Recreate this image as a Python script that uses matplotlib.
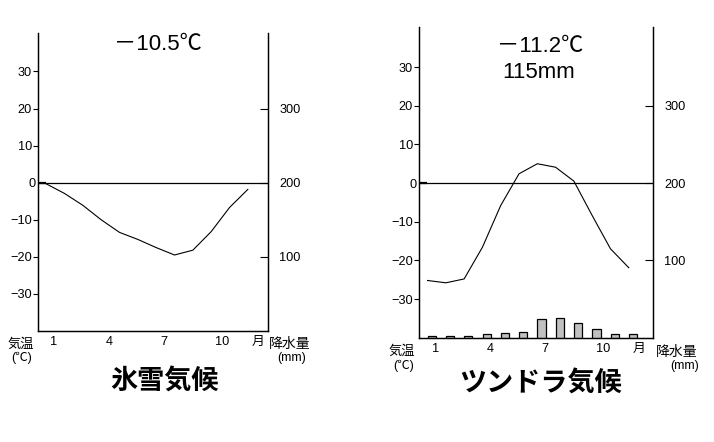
import matplotlib
matplotlib.use('Agg')
import matplotlib.pyplot as plt

plt.rcParams['font.family'] = ['Liberation Sans', 'Noto Sans CJK JP', 'DejaVu Sans']

# ---- data ----
months = list(range(1, 13))
month_ticks = [1, 4, 7, 10, 12]
month_labels = ['1', '4', '7', '10', '月']
temp_ticks = [-30, -20, -10, 10, 20, 30]
temp_tick_labels = ['\u221230', '\u221220', '\u221210', '10', '20', '30']
precip_ticks = [100, 200, 300]
precip_tick_labels = ['100', '200', '300']

icecap_temp = [-0.3, -2.9, -6.1, -10.0, -13.4, -15.3, -17.5, -19.5, -18.2, -13.2, -6.7, -1.8]
tundra_temp = [-25.2, -25.8, -24.8, -16.6, -5.8, 2.4, 5.0, 4.1, 0.5, -8.4, -17.0, -21.9]
tundra_precip = [2.5, 2.5, 2.5, 4.5, 5.5, 8, 24, 26, 19, 11, 5, 4.5]

icecap_title = '氷雪気候'
tundra_title = 'ツンドラ気候'
icecap_annual_t = '－10.5℃'
tundra_annual_t = '－11.2℃'
tundra_annual_p = '115mm'
label_temp = '気温'
label_temp_unit = '(℃)'
label_prec = '降水量'
label_prec_unit = '(mm)'

# ---- layout ----
W, H = 714, 442
T_MIN, T_MAX = -40, 40.3
LINE_SHIFT = -0.23
FS = 9.2

fig = plt.figure(figsize=(W / 100, H / 100), dpi=100)


def panel(left, top, right, bottom, xlim, temps, precip=None):
    ax = fig.add_axes([left / W, 1 - bottom / H, (right - left) / W, (bottom - top) / H])
    ax.set_xlim(*xlim)
    ax.set_ylim(T_MIN, T_MAX)
    for s in ax.spines.values():
        s.set_linewidth(0.9)
    ax.spines['top'].set_visible(False)
    ax.axhline(0, color='black', lw=0.9)
    ax.plot([m + LINE_SHIFT for m in months], temps, color='black', lw=0.8)
    ax.set_yticks(temp_ticks)
    ax.set_yticklabels(temp_tick_labels)
    ax.tick_params(axis='y', which='major', direction='out', length=3.6, width=0.8,
                   pad=1.0, labelsize=FS)
    ax.set_yticks([0], minor=True)
    ax.set_yticklabels(['0'], minor=True)
    ax.tick_params(axis='y', which='minor', direction='in', length=6, width=1.6,
                   pad=2.2, labelsize=FS)
    ax.set_xticks(month_ticks)
    ax.set_xticklabels(month_labels, ha='left')
    ax.tick_params(axis='x', length=0, pad=3.5, labelsize=FS)
    ax2 = ax.twinx()
    ax2.set_ylim((T_MIN + 40) * 5, (T_MAX + 40) * 5)
    ax2.set_yticks(precip_ticks)
    ax2.set_yticklabels(precip_tick_labels)
    ax2.tick_params(axis='y', direction='in', length=6, width=0.8, pad=8, labelsize=FS)
    for s in ax2.spines.values():
        s.set_linewidth(0.9)
    ax2.spines['top'].set_visible(False)
    if precip is not None:
        ax2.bar(months, precip, width=0.45, color='#c0c0c0', edgecolor='black', lw=0.9)
    return ax, ax2


def txt(x, y, s, size, weight='normal'):
    fig.text(x / W, 1 - y / H, s, ha='center', va='center', fontsize=size, weight=weight)


panel(38.3, 33.3, 268, 331, (0.34, 12.87), icecap_temp)
panel(419.3, 27.3, 653.3, 337.7, (0.32, 13.11), tundra_temp, tundra_precip)

# left panel texts
txt(158, 44, icecap_annual_t, 16)
txt(20.8, 345, label_temp, 9.5)
txt(21.5, 358, label_temp_unit, 9)
txt(290, 343.5, label_prec, 10)
txt(291.5, 358, label_prec_unit, 9)
txt(165, 381.5, icecap_title, 19.5, 'bold')

# right panel texts
txt(540, 46, tundra_annual_t, 16)
txt(539, 72.5, tundra_annual_p, 16)
txt(401.5, 352, label_temp, 9.5)
txt(404, 366, label_temp_unit, 9)
txt(676.5, 352, label_prec, 10)
txt(684.5, 366, label_prec_unit, 9)
txt(540.5, 383.5, tundra_title, 19.5, 'bold')

fig.savefig('out.png', dpi=100)
